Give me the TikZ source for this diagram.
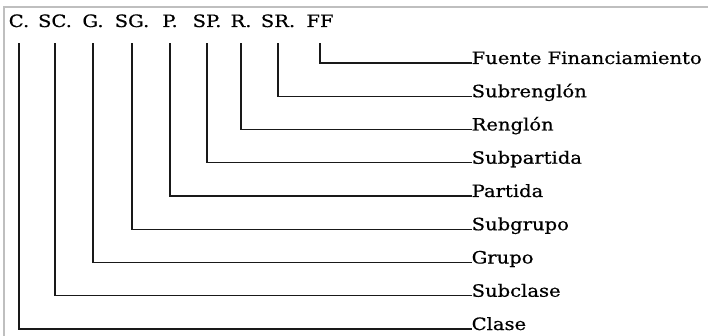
\documentclass[tikz,border=0pt]{standalone}
\usepackage{fontspec}
\setmainfont[FakeStretch=1.15,FakeBold=0.6]{DejaVu Serif}
\begin{document}
\begin{tikzpicture}[x=1pt,y=-1pt,
  txt/.style={font=\fontsize{17}{19}\selectfont, text=black, inner sep=0pt},
  code/.style={txt, anchor=base, text depth=0pt},
  lbl/.style={txt, anchor=west, text height=7pt, text depth=5pt},
  conn/.style={draw=black!90, line width=1.3pt, shorten <=16pt},
  frame/.style={draw=black!25, line width=1.2pt}]
\useasboundingbox[fill=white] (0,0) rectangle (708,336);
% panel edge
\draw[frame] (4,336) -- (4,7) -- (708,7);

% code letters along the top
\node[code] (cC)  at (19,27)  {C.};
\node[code] (cSC) at (55,27)  {SC.};
\node[code] (cG)  at (93,27)  {G.};
\node[code] (cSG) at (132,27) {SG.};
\node[code] (cP)  at (170,27) {P.};
\node[code] (cSP) at (207,27) {SP.};
\node[code] (cR)  at (241,27) {R.};
\node[code] (cSR) at (278,27) {SR.};
\node[code] (cFF) at (320,27) {FF};

% meanings on the right
\node[lbl] (lFF) at (471.5,63)    {Fuente Financiamiento};
\node[lbl] (lSR) at (471.5,96.25) {Subrenglón};
\node[lbl] (lR)  at (471.5,129.5) {Renglón};
\node[lbl] (lSP) at (471.5,162.75){Subpartida};
\node[lbl] (lP)  at (471.5,196)   {Partida};
\node[lbl] (lSG) at (471.5,229.25){Subgrupo};
\node[lbl] (lG)  at (471.5,262.5) {Grupo};
\node[lbl] (lSC) at (471.5,295.75){Subclase};
\node[lbl] (lC)  at (471.5,329)   {Clase};

% elbow connectors
\draw[conn] (cFF.south) |- (lFF.west);
\draw[conn] (cSR.south) |- (lSR.west);
\draw[conn] (cR.south)  |- (lR.west);
\draw[conn] (cSP.south) |- (lSP.west);
\draw[conn] (cP.south)  |- (lP.west);
\draw[conn] (cSG.south) |- (lSG.west);
\draw[conn] (cG.south)  |- (lG.west);
\draw[conn] (cSC.south) |- (lSC.west);
\draw[conn] (cC.south)  |- (lC.west);
\end{tikzpicture}
\end{document}
